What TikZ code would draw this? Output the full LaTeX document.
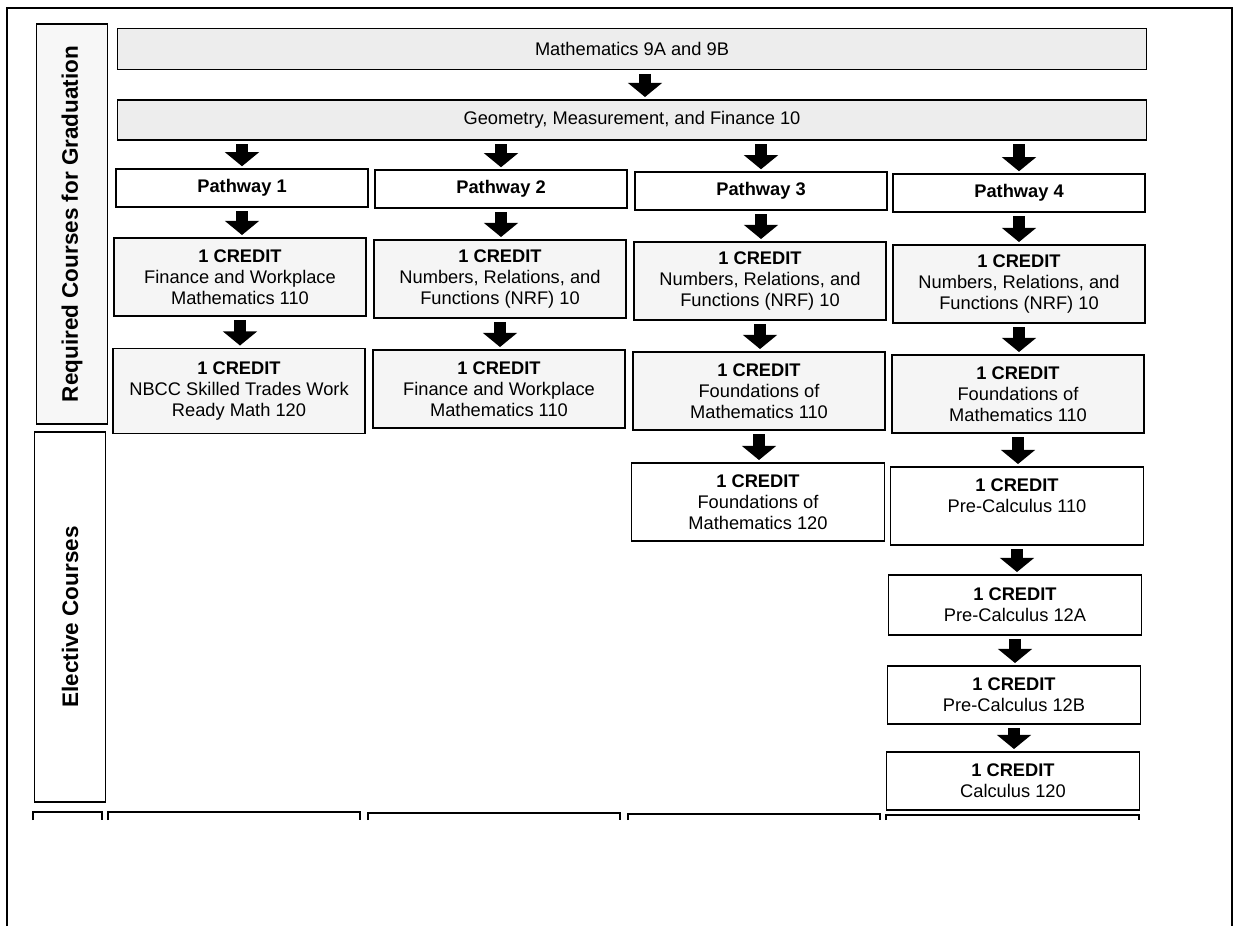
\documentclass[tikz,border=0pt]{standalone}
\usepackage{fontspec}
\setmainfont{Liberation Sans}
\usetikzlibrary{arrows.meta}

\begin{document}
\begin{tikzpicture}[x=0.02cm,y=-0.02cm,
    every node/.style={font=\fontsize{10.4}{12}\selectfont},
    box/.style={draw,line width=1pt,align=center,inner sep=1pt},
    banner/.style={box,fill=black!7,minimum width=20.58cm,minimum height=0.82cm},
    pathbox/.style={box,font=\fontsize{10.4}{12}\selectfont\bfseries,minimum width=5.04cm,minimum height=0.75cm},
    credit/.style={box,fill=black!4,minimum width=5.04cm,minimum height=1.56cm},
    elect/.style={box,minimum width=5.06cm,minimum height=1.56cm},
    side/.style={box,rotate=90,font=\fontsize{12.8}{14}\selectfont\bfseries,minimum height=1.42cm},
    dnarr/.style={-{Triangle[width=19pt,length=8pt]},line width=7pt,shorten <=2pt,shorten >=1.2pt}]
    \useasboundingbox (0,0) rectangle (1239,926);
    % page frame, open at the bottom
    \draw[line width=1.6pt] (7,926) -- (7,8) -- (1232,8) -- (1232,926);

    \node (req) at (72,224) [side,fill=black!3,minimum width=8.0cm] {Required Courses for Graduation};
    \node (elc) at (70,617) [side,minimum width=7.4cm] {Elective Courses};

    \node (m9) at (632,49) [banner] {Mathematics 9A and 9B};
    \node (geo) at (632,120) [banner,minimum height=0.80cm] {Geometry, Measurement, and Finance 10};

    \node (p1) at (242,188) [pathbox] {Pathway 1};
    \node (p2) at (501,189) [pathbox] {Pathway 2};
    \node (p3) at (761,191) [pathbox] {Pathway 3};
    \node (p4) at (1019,193) [pathbox] {Pathway 4};

    \node (a1) at (240,277) [credit] {\textbf{1 CREDIT}\\Finance and Workplace\\Mathematics 110};
    \node (a2) at (500,279) [credit] {\textbf{1 CREDIT}\\Numbers, Relations, and\\Functions (NRF) 10};
    \node (a3) at (760,281) [credit] {\textbf{1 CREDIT}\\Numbers, Relations, and\\Functions (NRF) 10};
    \node (a4) at (1019,284) [credit] {\textbf{1 CREDIT}\\Numbers, Relations, and\\Functions (NRF) 10};

    \node (b1) at (239,391) [credit,minimum height=1.70cm] {\textbf{1 CREDIT}\\NBCC Skilled Trades Work\\Ready Math 120};
    \node (b2) at (499,389) [credit] {\textbf{1 CREDIT}\\Finance and Workplace\\Mathematics 110};
    \node (b3) at (759,391) [credit] {\textbf{1 CREDIT}\\Foundations of\\Mathematics 110};
    \node (b4) at (1018,394) [credit] {\textbf{1 CREDIT}\\Foundations of\\Mathematics 110};

    \node (c3) at (758,502) [elect] {\textbf{1 CREDIT}\\Foundations of\\Mathematics 120};
    \node (c4) at (1017,506) [elect] {\textbf{1 CREDIT}\\Pre-Calculus 110\\\mbox{}};
    \node (d4) at (1015,605) [elect,minimum height=1.20cm] {\textbf{1 CREDIT}\\Pre-Calculus 12A};
    \node (e4) at (1014,695) [elect,minimum height=1.16cm] {\textbf{1 CREDIT}\\Pre-Calculus 12B};
    \node (f4) at (1013,781) [elect,minimum height=1.16cm] {\textbf{1 CREDIT}\\Calculus 120};

    \draw[dnarr] ([xshift=0.26cm]m9.south) -- ([xshift=0.26cm]geo.north);
    \draw[dnarr] (geo.south -| p1.north) -- (p1.north);
    \draw[dnarr] (geo.south -| p2.north) -- (p2.north);
    \draw[dnarr] (geo.south -| p3.north) -- (p3.north);
    \draw[dnarr] (geo.south -| p4.north) -- (p4.north);

    \draw[dnarr] (p1.south) -- (p1.south |- a1.north);
    \draw[dnarr] (a1.south) -- (a1.south |- b1.north);
    \draw[dnarr] (p2.south) -- (p2.south |- a2.north);
    \draw[dnarr] (a2.south) -- (a2.south |- b2.north);
    \draw[dnarr] (p3.south) -- (p3.south |- a3.north);
    \draw[dnarr] (a3.south) -- (a3.south |- b3.north);
    \draw[dnarr] (b3.south) -- (b3.south |- c3.north);
    \draw[dnarr] (p4.south) -- (p4.south |- a4.north);
    \draw[dnarr] (a4.south) -- (a4.south |- b4.north);
    \draw[dnarr] (b4.south) -- (b4.south |- c4.north);
    \draw[dnarr] (c4.south) -- (c4.south |- d4.north);
    \draw[dnarr] (d4.south) -- (d4.south |- e4.north);
    \draw[dnarr] (e4.south) -- (e4.south |- f4.north);

    % tops of the next row, cut off by the page edge
    \draw[line width=1pt] (33,820) |- (102,812) -- (102,820);
    \draw[line width=1pt] (108,820) |- (360,812) -- (360,820);
    \draw[line width=1pt] (368,820) |- (620,813) -- (620,820);
    \draw[line width=1pt] (628,820) |- (880,814) -- (880,820);
    \draw[line width=1pt] (886,820) |- (1139,815) -- (1139,820);
\end{tikzpicture}
\end{document}
